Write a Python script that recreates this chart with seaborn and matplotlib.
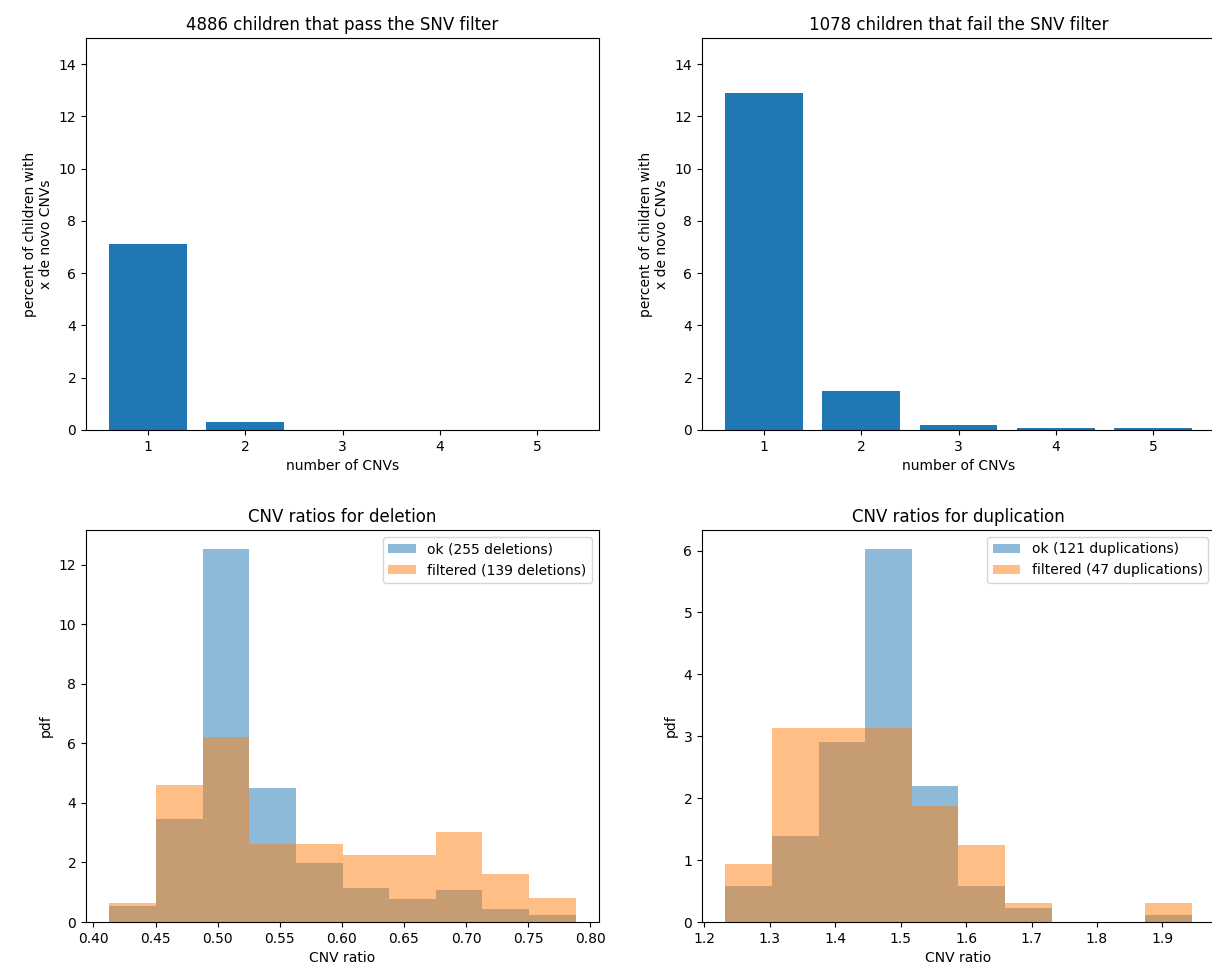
import matplotlib
matplotlib.use("Agg")
import matplotlib.pyplot as plt
import seaborn as sns
import numpy as np
import pandas as pd

# ---- data ----
n_cnvs = [1, 2, 3, 4, 5]
pass_pct = [7.13, 0.29, 0.0, 0.0, 0.0]
fail_pct = [12.90, 1.48, 0.19, 0.09, 0.09]
pass_title = "4886 children that pass the SNV filter"
fail_title = "1078 children that fail the SNV filter"

del_edges = [0.4128, 0.4504, 0.4879, 0.5255, 0.5630, 0.6006,
             0.6381, 0.6757, 0.7132, 0.7508, 0.7883]
del_ok = [0.55, 3.45, 12.54, 4.49, 1.98, 1.14, 0.76, 1.06, 0.44, 0.22]
del_filtered = [0.64, 4.61, 6.21, 2.61, 2.61, 2.24, 2.24, 3.02, 1.61, 0.79]
del_labels = ["ok (255 deletions)", "filtered (139 deletions)"]

dup_edges = [1.2321, 1.3034, 1.3746, 1.4459, 1.5172, 1.5884,
             1.6597, 1.7310, 1.8022, 1.8735, 1.9448]
dup_ok = [0.58, 1.39, 2.90, 6.03, 2.20, 0.58, 0.23, 0.0, 0.0, 0.12]
dup_filtered = [0.94, 3.13, 3.13, 3.13, 1.88, 1.25, 0.31, 0.0, 0.0, 0.31]
dup_labels = ["ok (121 duplications)", "filtered (47 duplications)"]

BLUE = "#1f77b4"
ORANGE = "#ff7f0e"

fig = plt.figure(figsize=(12.12, 9.73), dpi=100)
W, H = 0.4233, 0.4029
ax_tl = fig.add_axes([0.07096, 0.5581, W, H])
ax_tr = fig.add_axes([0.5792, 0.5581, W, H])
ax_bl = fig.add_axes([0.07096, 0.0524, W, H])
ax_br = fig.add_axes([0.5792, 0.0524, W, H])


def bar_panel(ax, pct, title):
    df = pd.DataFrame({"n": [str(v) for v in n_cnvs], "pct": pct})
    sns.barplot(data=df, x="n", y="pct", color=BLUE, saturation=1,
                width=0.8, linewidth=0, errorbar=None, ax=ax)
    ax.set_xlim(-0.64, 4.64)
    ax.set_ylim(0, 15)
    ax.set_yticks(range(0, 15, 2))
    ax.set_title(title)
    ax.set_xlabel("number of CNVs")
    ax.set_ylabel("percent of children with\nx de novo CNVs")


def hist_panel(ax, edges, ok, filt, labels, title):
    edges = [float(e) for e in edges]
    centers = [(a + b) / 2 for a, b in zip(edges[:-1], edges[1:])]
    for heights, color, label in ((ok, BLUE, labels[0]),
                                  (filt, ORANGE, labels[1])):
        df = pd.DataFrame({"x": centers, "w": heights})
        sns.histplot(data=df, x="x", weights="w", bins=edges, stat="count",
                     color=color, alpha=0.5, linewidth=0, edgecolor="none",
                     label=label, ax=ax)
    ax.legend(loc="upper right")
    ax.set_title(title)
    ax.set_xlabel("CNV ratio")
    ax.set_ylabel("pdf")


bar_panel(ax_tl, pass_pct, pass_title)
bar_panel(ax_tr, fail_pct, fail_title)
hist_panel(ax_bl, del_edges, del_ok, del_filtered, del_labels,
           "CNV ratios for deletion")
hist_panel(ax_br, dup_edges, dup_ok, dup_filtered, dup_labels,
           "CNV ratios for duplication")

# right-hand panels run past the image edge in the reference
for ax in (ax_tr, ax_br):
    ax.spines["right"].set_visible(False)

fig.savefig("out.png", dpi=100)
